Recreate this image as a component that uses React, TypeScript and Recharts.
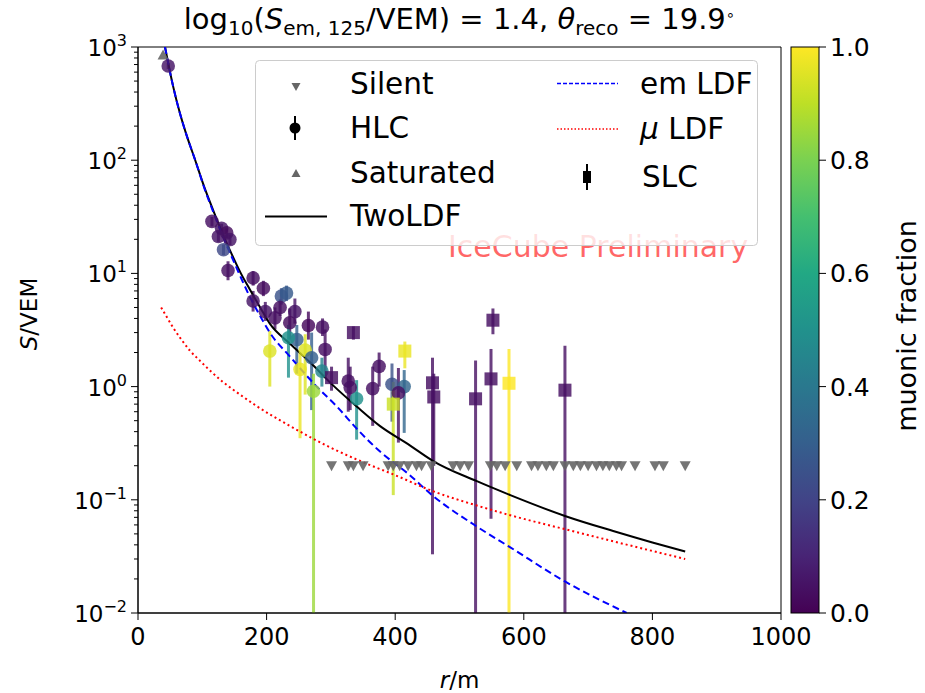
import React from "react";
import {
  ComposedChart,
  XAxis,
  YAxis,
  Scatter,
  Line,
  ErrorBar,
  ReferenceArea,
} from "recharts";

// fitted curves
const TWOLDF_R = [42, 55, 65, 75, 89, 104, 117, 130, 143, 160, 174, 190, 205, 236, 268, 303, 341, 376, 420, 459, 527, 579, 664, 739, 800, 851];
const TWOLDF_S = [1000, 440, 262, 170, 100, 56, 36, 23.5, 16, 10, 7.2, 5.0, 3.6, 2.4, 1.63, 1.03, 0.66, 0.45, 0.31, 0.22, 0.146, 0.11, 0.072, 0.053, 0.042, 0.035];

const EM_R = [42, 55, 65, 75, 89, 104, 117, 130, 143, 160, 174, 190, 205, 236, 278, 309, 341, 376, 420, 459, 527, 579, 664, 760];
const EM_S = [1000, 440, 262, 170, 100, 55, 35, 22.5, 15.2, 9.2, 6.2, 4.2, 3.0, 1.85, 1.0, 0.67, 0.42, 0.268, 0.17, 0.108, 0.058, 0.038, 0.019, 0.01];

const MU_R = [36, 45, 55, 68, 81, 95, 110, 132, 160, 185, 236, 299, 350, 400, 459, 527, 579, 664, 739, 851];
const MU_S = [5.0, 4.1, 3.3, 2.58, 2.07, 1.72, 1.42, 1.1, 0.84, 0.67, 0.45, 0.29, 0.215, 0.165, 0.119, 0.089, 0.073, 0.055, 0.043, 0.03];

// HLC hits
const HLC_R = [47, 115, 130, 138, 143, 125, 133, 140, 179, 195, 179, 223, 231, 221, 198, 213, 244, 236, 265, 287, 205, 247, 234, 260, 252, 270, 291, 286, 273, 327, 330, 340, 375, 365, 395, 414, 405];
const HLC_S = [680, 28.8, 25, 22.8, 19.9, 21.2, 16.2, 10.6, 9.1, 7.4, 5.7, 6.3, 6.7, 5.0, 4.6, 4.05, 4.6, 3.66, 3.47, 3.35, 2.06, 2.6, 2.7, 2.1, 1.42, 1.8, 2.13, 1.37, 0.91, 1.12, 0.98, 0.78, 1.51, 0.96, 1.05, 1.0, 0.88];
const HLC_LO = [640, 26, 22.5, 20.5, 17.8, 19, 14.5, 8.7, 7.8, 6.3, 4.6, 5.3, 5.7, 4.2, 3.8, 3.2, 3.6, 2.6, 2.6, 2.8, 1.0, 1.3, 1.2, 0.85, 0.35, 0.62, 1.2, 1.0, 0.01, 0.6, 0.62, 0.34, 1.0, 0.45, 0.49, 0.39, 0.32];
const HLC_HI = [720, 31.5, 27.5, 25, 22, 23.5, 18, 12.8, 10.5, 8.6, 7.0, 7.4, 7.8, 5.9, 5.6, 5.0, 6.0, 4.9, 4.6, 4.0, 3.1, 3.5, 3.5, 2.9, 2.0, 3.0, 3.2, 1.8, 1.3, 1.8, 1.5, 1.14, 2.0, 1.5, 1.6, 1.4, 1.46];
const HLC_MF = [0.05, 0.04, 0.05, 0.03, 0.05, 0.05, 0.22, 0.04, 0.04, 0.03, 0.05, 0.25, 0.28, 0.04, 0.05, 0.04, 0.05, 0.03, 0.02, 0.04, 0.95, 0.3, 0.5, 0.95, 0.97, 0.3, 0.04, 0.45, 0.85, 0.04, 0.04, 0.5, 0.04, 0.04, 0.25, 0.33, 0.04];

// SLC hits
const SLC_R = [301, 335, 415, 397, 458, 460, 525, 549, 552, 577, 664];
const SLC_S = [1.2, 3.0, 2.06, 0.7, 1.08, 0.81, 0.78, 1.17, 3.86, 1.07, 0.93];
const SLC_LO = [0.92, 2.6, 1.45, 0.11, 0.033, 0.2, 0.01, 0.068, 2.9, 0.01, 0.01];
const SLC_HI = [1.5, 3.4, 2.5, 1.1, 1.8, 1.3, 1.7, 2.15, 4.9, 2.15, 2.3];
const SLC_MF = [0.04, 0.04, 0.97, 0.92, 0.04, 0.04, 0.04, 0.04, 0.04, 1.0, 0.04];

// silent tanks, all drawn at the threshold
const SILENT_R = [301, 327, 335, 350, 389, 397, 407, 420, 433, 441, 456, 490, 501, 514, 548, 558, 571, 589, 612, 622, 635, 646, 664, 677, 688, 700, 713, 723, 733, 744, 752, 773, 804, 817, 851];
const SILENT_S = [0.2, 0.2, 0.2, 0.2, 0.2, 0.2, 0.2, 0.2, 0.2, 0.2, 0.2, 0.2, 0.2, 0.2, 0.2, 0.2, 0.2, 0.2, 0.2, 0.2, 0.2, 0.2, 0.2, 0.2, 0.2, 0.2, 0.2, 0.2, 0.2, 0.2, 0.2, 0.2, 0.2, 0.2, 0.2];

const SATURATED_R = [39];
const SATURATED_S = [850];

const X_TICKS = [0, 200, 400, 600, 800, 1000];
const Y_MAJOR = [0.01, 0.1, 1, 10, 100, 1000];
const CBAR_TICKS = [0, 0.2, 0.4, 0.6, 0.8, 1.0];

const VIRIDIS = ["#440154", "#482475", "#414487", "#355f8d", "#2a788e", "#21918c", "#22a884", "#44bf70", "#7ad151", "#bddf26", "#fde725"];

const FONT = "DejaVu Sans";

function hexToRgb(h: string) {
  return [parseInt(h.slice(1, 3), 16), parseInt(h.slice(3, 5), 16), parseInt(h.slice(5, 7), 16)];
}

function viridis(t: number) {
  const x = Math.max(0, Math.min(1, t)) * 10;
  const i = Math.min(9, Math.floor(x));
  const f = x - i;
  const a = hexToRgb(VIRIDIS[i]);
  const b = hexToRgb(VIRIDIS[i + 1]);
  const c = a.map((v, k) => Math.round(v + (b[k] - v) * f));
  return `rgb(${c[0]},${c[1]},${c[2]})`;
}

const yTicks: number[] = [];
Y_MAJOR.forEach((m, i) => {
  yTicks.push(m);
  if (i < Y_MAJOR.length - 1) for (let k = 2; k < 10; k++) yTicks.push(+(m * k).toPrecision(3));
});

const curve = (rs: number[], ss: number[]) => rs.map((r, i) => ({ r, s: ss[i] }));
const hits = (rs: number[], ss: number[], lo: number[], hi: number[], mf: number[]) =>
  rs.map((r, i) => ({ r, s: ss[i], err: [ss[i] - lo[i], hi[i] - ss[i]], mf: mf[i] }));

const hlc = hits(HLC_R, HLC_S, HLC_LO, HLC_HI, HLC_MF);
const slc = hits(SLC_R, SLC_S, SLC_LO, SLC_HI, SLC_MF);
const silent = curve(SILENT_R, SILENT_S);
const saturated = curve(SATURATED_R, SATURATED_S);

function YTick(props: any) {
  const { x, y, payload } = props;
  const v = payload.value;
  const e = Math.round(Math.log10(v));
  const major = Math.abs(Math.log10(v) - e) < 1e-6;
  const len = major ? 7 : 4;
  return (
    <g>
      <line x1={x} x2={x - len} y1={y} y2={y} stroke="#000" strokeWidth={1} />
      {major && (
        <text x={x - len - 4} y={y + 9} textAnchor="end" fontSize={23} fill="#000" fontFamily={FONT}>
          10
          <tspan dy={-10} fontSize={16}>
            {e < 0 ? `\u2212${-e}` : `${e}`}
          </tspan>
        </text>
      )}
    </g>
  );
}

const downTri = (p: any) => (
  <polygon
    points={`${p.cx - 5.5},${p.cy - 4.5} ${p.cx + 5.5},${p.cy - 4.5} ${p.cx},${p.cy + 5.5}`}
    fill="#666"
    fillOpacity={0.9}
  />
);
const upTri = (p: any) => (
  <polygon
    points={`${p.cx - 5.5},${p.cy + 4.5} ${p.cx + 5.5},${p.cy + 4.5} ${p.cx},${p.cy - 5.5}`}
    fill="#666"
    fillOpacity={0.9}
  />
);

function Overlay() {
  const cbX = 791;
  const cbW = 28;
  const cbTop = 47;
  const cbBot = 613;
  return (
    <svg width={925} height={693} style={{ position: "absolute", left: 0, top: 0, pointerEvents: "none" }} fontFamily={FONT}>
      <defs>
        <linearGradient id="vir" x1="0" y1="1" x2="0" y2="0">
          {VIRIDIS.map((c, i) => (
            <stop key={i} offset={`${i * 10}%`} stopColor={c} />
          ))}
        </linearGradient>
      </defs>
      {/* title */}
      <text x={459.5} y={29} textAnchor="middle" fontSize={29} fill="#000">
        log
        <tspan fontSize={20} dy={6}>10</tspan>
        <tspan dy={-6}>(</tspan>
        <tspan fontStyle="italic">S</tspan>
        <tspan fontSize={20} dy={6}>em, 125</tspan>
        <tspan dy={-6}>/VEM) = 1.4, </tspan>
        <tspan fontStyle="italic">θ</tspan>
        <tspan fontSize={20} dy={6}>reco</tspan>
        <tspan dy={-6}> = 19.9</tspan>
        <tspan fontSize={15} dy={-9}>∘</tspan>
      </text>
      {/* axis labels */}
      <text x={459.5} y={688} textAnchor="middle" fontSize={23} fill="#000">
        <tspan fontStyle="italic">r</tspan>/m
      </text>
      <text transform="translate(37,314) rotate(-90)" textAnchor="middle" fontSize={23} fill="#000">
        <tspan fontStyle="italic">S</tspan>/VEM
      </text>
      {/* watermark */}
      <text x={448} y={257} fontSize={30} fill="#ff0000" fillOpacity={0.6}>
        IceCube Preliminary
      </text>
      {/* legend */}
      <rect x={255.5} y={60.5} width={502} height={185} rx={4} fill="#fff" fillOpacity={0.8} stroke="#cccccc" />
      <polygon points="291.5,83 300.5,83 296,91" fill="#666" />
      <line x1={295} x2={295} y1={116} y2={140} stroke="#000" strokeWidth={2} />
      <circle cx={295} cy={128} r={5.5} fill="#000" />
      <polygon points="291.5,177 300.5,177 296,169" fill="#666" />
      <line x1={265} x2={327} y1={216.5} y2={216.5} stroke="#000" strokeWidth={2} />
      <line x1={557} x2={618} y1={83.5} y2={83.5} stroke="#0000ff" strokeWidth={1.5} strokeDasharray="4 2" />
      <line x1={557} x2={618} y1={129} y2={129} stroke="#ff0000" strokeWidth={1.5} strokeDasharray="1.5 2" />
      <line x1={587} x2={587} y1={164} y2={190} stroke="#000" strokeWidth={2} />
      <rect x={583} y={171} width={8} height={12} fill="#000" />
      <g fontSize={29.5} fill="#000">
        <text x={350} y={94}>Silent</text>
        <text x={350} y={138}>HLC</text>
        <text x={350} y={183}>Saturated</text>
        <text x={350} y={226}>TwoLDF</text>
        <text x={640} y={94}>em LDF</text>
        <text x={640} y={139}>
          <tspan fontStyle="italic">μ</tspan> LDF
        </text>
        <text x={642} y={187}>SLC</text>
      </g>
      {/* colorbar */}
      <rect x={cbX} y={cbTop} width={cbW} height={cbBot - cbTop} fill="url(#vir)" stroke="#000" strokeWidth={1} />
      {CBAR_TICKS.map((t) => {
        const y = cbBot - t * (cbBot - cbTop);
        return (
          <g key={t}>
            <line x1={cbX + cbW} x2={cbX + cbW + 7} y1={y} y2={y} stroke="#000" />
            <text x={cbX + cbW + 11} y={y + 9} fontSize={25} fill="#000">
              {t.toFixed(1)}
            </text>
          </g>
        );
      })}
      <text transform="translate(916,326) rotate(-90)" textAnchor="middle" fontSize={27} fill="#000">
        muonic fraction
      </text>
    </svg>
  );
}

export default function App() {
  return (
    <div style={{ position: "fixed", left: 0, top: 0, width: 925, height: 693, background: "#fff", fontFamily: FONT }}>
      <ComposedChart width={925} height={693} margin={{ top: 47, right: 144, bottom: 50, left: 78 }}>
        <XAxis
          type="number"
          dataKey="r"
          domain={[0, 1000]}
          ticks={X_TICKS}
          interval={0}
          height={30}
          tickSize={7}
          tickMargin={8}
          stroke="#000"
          tick={{ fill: "#000", fontSize: 24, fontFamily: FONT }}
          allowDataOverflow
        />
        <YAxis
          type="number"
          dataKey="s"
          scale="log"
          domain={[0.01, 1000]}
          ticks={yTicks}
          interval={0}
          width={60}
          tickSize={0}
          tickMargin={0}
          tickLine={false}
          stroke="#000"
          tick={<YTick />}
          allowDataOverflow
        />
        <ReferenceArea x1={0} x2={1000} y1={0.01} y2={1000} fill="none" stroke="#000" strokeWidth={1} />
        <Scatter data={silent} shape={downTri} isAnimationActive={false} />
        <Scatter data={saturated} shape={upTri} isAnimationActive={false} />
        {hlc.map((p, i) => {
          const c = viridis(p.mf);
          return (
            <Scatter
              key={`h${i}`}
              data={[p]}
              isAnimationActive={false}
              shape={(q: any) => <circle cx={q.cx} cy={q.cy} r={6.8} fill={c} fillOpacity={0.82} />}
            >
              <ErrorBar dataKey="err" direction="y" width={0} stroke={c} strokeWidth={3} strokeOpacity={0.8} />
            </Scatter>
          );
        })}
        {slc.map((p, i) => {
          const c = viridis(p.mf);
          return (
            <Scatter
              key={`s${i}`}
              data={[p]}
              isAnimationActive={false}
              shape={(q: any) => <rect x={q.cx - 6.5} y={q.cy - 6.5} width={13} height={13} fill={c} fillOpacity={0.82} />}
            >
              <ErrorBar dataKey="err" direction="y" width={0} stroke={c} strokeWidth={3} strokeOpacity={0.8} />
            </Scatter>
          );
        })}
        <Line data={curve(TWOLDF_R, TWOLDF_S)} dataKey="s" type="monotone" stroke="#000" strokeWidth={2} dot={false} isAnimationActive={false} />
        <Line data={curve(EM_R, EM_S)} dataKey="s" type="monotone" stroke="#0000ff" strokeWidth={2} strokeDasharray="7 4" dot={false} isAnimationActive={false} />
        <Line data={curve(MU_R, MU_S)} dataKey="s" type="monotone" stroke="#ff0000" strokeWidth={2} strokeDasharray="2 3" dot={false} isAnimationActive={false} />
      </ComposedChart>
      <Overlay />
    </div>
  );
}
